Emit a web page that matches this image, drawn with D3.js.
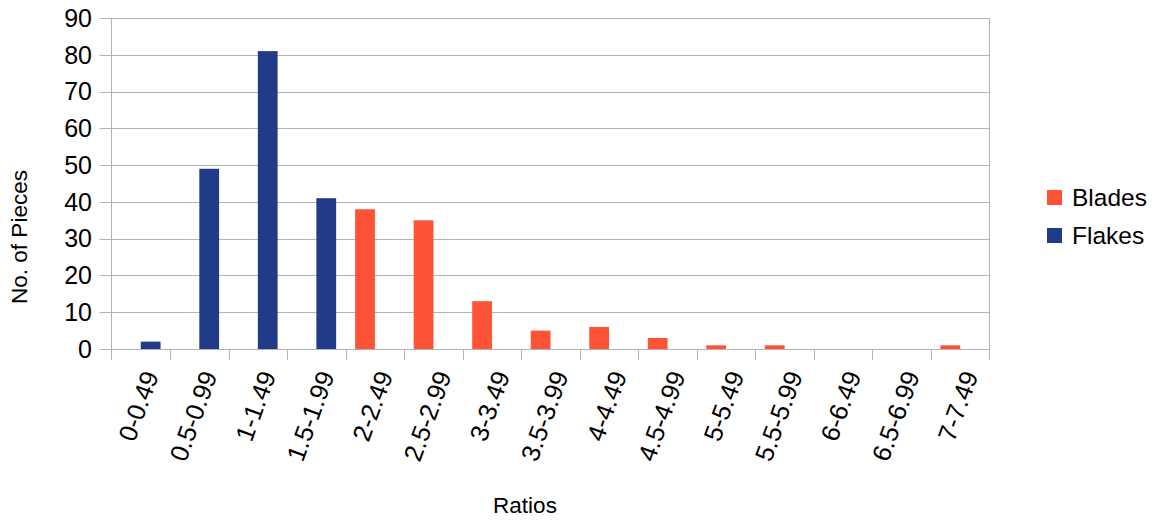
<!DOCTYPE html>
<html>
<head>
<meta charset="utf-8">
<script src="https://cdn.jsdelivr.net/npm/d3@7"></script>
<style>
  html, body { margin: 0; padding: 0; background: #fff; }
  svg text { font-family: "Liberation Sans", Arial, sans-serif; fill: #000; }
</style>
</head>
<body>
<svg id="chart" width="1158" height="525"></svg>
<script>
// Length/width ratio classes
const categories = ["0-0.49", "0.5-0.99", "1-1.49", "1.5-1.99", "2-2.49", "2.5-2.99",
  "3-3.49", "3.5-3.99", "4-4.49", "4.5-4.99", "5-5.49", "5.5-5.99", "6-6.49", "6.5-6.99", "7-7.49"];
const seriesNames = ["Blades", "Flakes"];
const blades = [0, 0, 0, 0, 38, 35, 13, 5, 6, 3, 1, 1, 0, 0, 1];
const flakes = [2, 49, 81, 41, 0, 0, 0, 0, 0, 0, 0, 0, 0, 0, 0];
const yTicks = [0, 10, 20, 30, 40, 50, 60, 70, 80, 90];
const colors = { Blades: "#ff5337", Flakes: "#223b88" };

const rows = categories.map((c, i) => ({ cat: c, Blades: blades[i], Flakes: flakes[i] }));

const svg = d3.select("#chart");
const m = { left: 111.5, right: 989.5, top: 18, bottom: 349 };

const x0 = d3.scaleBand().domain(categories).range([m.left, m.right]).padding(0);
const x1 = d3.scaleBand().domain(seriesNames).range([0, x0.bandwidth()])
  .paddingInner(0).paddingOuter(0.48);
const y = d3.scaleLinear().domain([0, 90]).range([m.bottom, m.top]);

const gridColor = "#b3b3b3";

// horizontal grid lines
svg.append("g").selectAll("line").data(yTicks).join("line")
  .attr("x1", m.left - 12).attr("x2", m.right)
  .attr("y1", d => Math.round(y(d)) + 0.5).attr("y2", d => Math.round(y(d)) + 0.5)
  .attr("stroke", gridColor).attr("stroke-width", 1);

// plot frame: left and right edges
svg.append("line").attr("x1", m.left).attr("x2", m.left)
  .attr("y1", m.top).attr("y2", m.bottom + 11).attr("stroke", gridColor);
svg.append("line").attr("x1", m.right).attr("x2", m.right)
  .attr("y1", m.top).attr("y2", m.bottom + 11).attr("stroke", gridColor);

// x tick marks at category boundaries
svg.append("g").selectAll("line").data(categories.slice(1)).join("line")
  .attr("x1", d => Math.round(x0(d)) + 0.5).attr("x2", d => Math.round(x0(d)) + 0.5)
  .attr("y1", m.bottom).attr("y2", m.bottom + 11)
  .attr("stroke", gridColor);

// y tick labels
svg.append("g").selectAll("text").data(yTicks).join("text")
  .attr("x", 92).attr("y", d => y(d))
  .attr("dy", "0.35em")
  .attr("text-anchor", "end")
  .style("font-size", "25px")
  .text(d => d);

// bars
const groups = svg.append("g").selectAll("g").data(rows).join("g")
  .attr("transform", d => `translate(${x0(d.cat)},0)`);
groups.selectAll("rect")
  .data(d => seriesNames.map(k => ({ key: k, value: d[k] })))
  .join("rect")
  .attr("x", d => x1(d.key))
  .attr("width", x1.bandwidth())
  .attr("y", d => y(d.value))
  .attr("height", d => y(0) - y(d.value))
  .attr("fill", d => colors[d.key]);

// x tick labels, rotated
svg.append("g").selectAll("text").data(categories).join("text")
  .attr("transform", d => `translate(${x0(d) + x0.bandwidth() / 2 + 10},${m.bottom + 23}) rotate(-70)`)
  .attr("text-anchor", "end")
  .attr("dy", "0.35em")
  .style("font-size", "25.5px")
  .text(d => d);

// axis titles
svg.append("text")
  .attr("transform", "translate(27,237) rotate(-90)")
  .attr("text-anchor", "middle")
  .style("font-size", "22.5px")
  .text("No. of Pieces");
svg.append("text")
  .attr("x", 525).attr("y", 513)
  .attr("text-anchor", "middle")
  .style("font-size", "22.5px")
  .text("Ratios");

// legend
const legend = svg.append("g").selectAll("g").data(seriesNames).join("g")
  .attr("transform", (d, i) => `translate(1047,${190 + i * 38})`);
legend.append("rect").attr("width", 15).attr("height", 15)
  .attr("fill", d => colors[d]);
legend.append("text").attr("x", 25).attr("y", 7.5).attr("dy", "0.36em")
  .style("font-size", "24.5px")
  .text(d => d);
</script>
</body>
</html>
